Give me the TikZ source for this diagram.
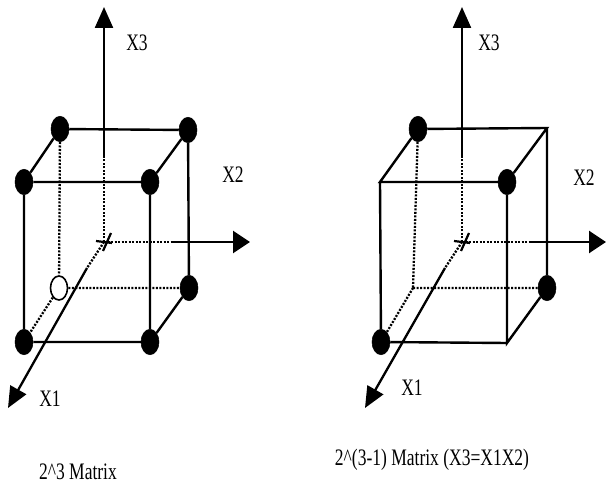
\documentclass[tikz,border=0pt]{standalone}
\usepackage{fontspec}
\setmainfont{Liberation Serif}
\usetikzlibrary{shapes.geometric,arrows.meta}
\tikzset{
  vtx/.style={ellipse,fill=black,draw=black,line width=0.5pt,minimum width=18pt,minimum height=25.5pt,inner sep=0pt},
  openvtx/.style={ellipse,fill=white,draw=black,line width=1.6pt,minimum width=17pt,minimum height=24pt,inner sep=0pt},
  solidedge/.style={draw=black,line width=2.4pt},
  hidden/.style={draw=black,line width=2.3pt,dash pattern=on 2pt off 1.5pt},
  axis/.style={draw=black,line width=2.3pt,-{Triangle[length=21pt,width=18pt]}},
  axisy/.style={draw=black,line width=2.6pt,-{Triangle[length=17pt,width=22pt]}},
  tick/.style={draw=black,line width=2.2pt},
  lab/.style={inner sep=0pt,font=\fontsize{17.5}{19}\selectfont},
}
\newcommand{\tall}[1]{\scalebox{1}[1.35]{#1}}
\begin{document}
\begin{tikzpicture}[x=1pt,y=-1pt]
\useasboundingbox (0,0) rectangle (606,484);
% LEFT
\coordinate (o1) at (104,242);
\coordinate (z1) at (104,157);
\coordinate (y1) at (173,242);
\coordinate (w1) at (87,268);
\coordinate (t1z) at (104,7);
\coordinate (t1y) at (250,242);
\coordinate (t1x) at (8,408);
\coordinate (c1a) at (96,241);
\coordinate (c1b) at (112,243);
\coordinate (c1c) at (111,233);
\coordinate (c1d) at (103,251);
\draw[hidden] (o1) -- (z1);
\draw[hidden] (o1) -- (y1);
\draw[hidden] (o1) -- (w1);
\draw[axis] (z1) -- (t1z);
\draw[axisy] (y1) -- (t1y);
\draw[axis] (w1) -- (t1x);
\draw[tick] (c1a) -- (c1b);
\draw[tick] (c1c) -- (c1d);
\node[vtx] (btl) at (60,129) {};
\node[vtx] (btr) at (188,130) {};
\node[vtx] (ftl) at (24,182) {};
\node[vtx] (ftr) at (150,182) {};
\node[vtx] (fbl) at (24,342) {};
\node[vtx] (fbr) at (150,342) {};
\node[vtx] (bbr) at (189,288) {};
\node[openvtx] (bbl) at (59,288) {};
\draw[solidedge] (btl)--(btr) (ftl)--(ftr) (fbl)--(fbr) (btl)--(ftl) (btr)--(ftr) (bbr)--(fbr)
 (ftl)--(fbl) (ftr)--(fbr) (btr)--(bbr);
\draw[hidden] (btl)--(bbl) (bbl)--(bbr) (bbl)--(fbl);
\node[lab] (x31) at (137,43) {\tall{X3}};
\node[lab] (x21) at (233,175) {\tall{X2}};
\node[lab] (x11) at (50,399) {\tall{X1}};
\node[lab] (cap1) at (78,472) {\tall{2\textasciicircum 3 Matrix}};
% RIGHT
\coordinate (o2) at (462,242);
\coordinate (z2) at (462,157);
\coordinate (y2) at (531,242);
\coordinate (w2) at (445,268);
\coordinate (t2z) at (462,7);
\coordinate (t2y) at (606,242);
\coordinate (t2x) at (365,408);
\coordinate (c2a) at (454,241);
\coordinate (c2b) at (470,243);
\coordinate (c2c) at (469,233);
\coordinate (c2d) at (461,251);
\draw[hidden] (o2) -- (z2);
\draw[hidden] (o2) -- (y2);
\draw[hidden] (o2) -- (w2);
\draw[axis] (z2) -- (t2z);
\draw[axisy] (y2) -- (t2y);
\draw[axis] (w2) -- (t2x);
\draw[tick] (c2a) -- (c2b);
\draw[tick] (c2c) -- (c2d);
\coordinate (rbtr) at (547,128);
\coordinate (rftl) at (380,182);
\coordinate (rfbr) at (507,343);
\coordinate (rbbl) at (413,288);
\node[vtx] (rbtl) at (418,129) {};
\node[vtx] (rftr) at (507,182) {};
\node[vtx] (rfbl) at (381,342) {};
\node[vtx] (rbbr) at (547,288) {};
\draw[solidedge,line join=miter] (rbtl)--(rbtr)--(rftr) (rbtl)--(rftl)--(rftr) (rftl)--(rfbl)--(rfbr) (rftr)--(rfbr)--(rbbr)--(rbtr);
\draw[hidden] (rbtl)--(rbbl) (rbbl)--(rbbr) (rbbl)--(rfbl);
\node[lab] (x32) at (489,43) {\tall{X3}};
\node[lab] (x22) at (584,178) {\tall{X2}};
\node[lab] (x12) at (412,388) {\tall{X1}};
\node[lab] (cap2) at (432,460) {\tall{2\textasciicircum(3-1) Matrix (X3=X1X2)}};
\end{tikzpicture}
\end{document}
